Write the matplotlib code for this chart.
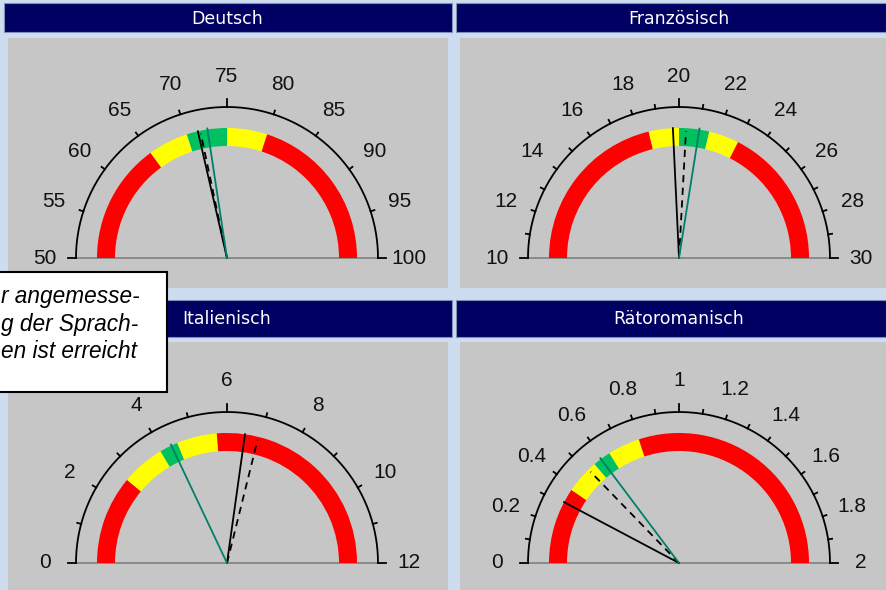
import numpy as np
import matplotlib
matplotlib.use("Agg")
import matplotlib.pyplot as plt
from matplotlib.patches import Wedge, Rectangle

# ---------------- data ----------------
panels = ["Deutsch", "Französisch", "Italienisch", "Rätoromanisch"]
scale_min = [50, 10, 0, 0]
scale_max = [100, 30, 12, 2]
label_step = [5, 2, 2, 0.2]
tick_step = [5, 1, 1, 0.1]
band_de = [50, 65, 70, 75, 80, 100]
band_fr = [10, 18.5, 20, 21.5, 23, 30]
band_it = [0, 2.65, 3.95, 4.5, 5.7, 12]
band_rm = [0, 0.38, 0.55, 0.64, 0.8, 2]
band_colors = ["#ff0000", "#ffff00", "#00c060", "#ffff00", "#ff0000"]
needle_solid = [71.4, 19.7, 6.53, 0.31]
needle_dashed = [71.7, 20.35, 6.93, 0.51]
needle_green = [72.6, 21.0, 4.31, 0.59]
note_lines = ["r angemesse-", "g der Sprach-", "en ist erreicht"]

bands = [band_de, band_fr, band_it, band_rm]

# ---------------- layout (pixels, top-down) ----------------
W, H = 886, 590
gray_boxes = [(8, 38, 448, 288), (460, 38, 886, 288), (8, 342, 448, 590), (460, 342, 886, 590)]
centers = [(227, 258), (679, 258), (227, 563), (679, 563)]
headers = [(4, 3, 452, 32), (456, 3, 886, 32), (4, 300, 452, 337), (456, 300, 886, 337)]

BG = "#cddcee"
NAVY = "#000062"
GRAY = "#c6c6c6"
TEAL = "#00806a"

R_ARC = 151
R_BAND = 130
BAND_W = 18
R_LABEL = 182

fig = plt.figure(figsize=(W / 100, H / 100), dpi=100)
fig.patch.set_facecolor(BG)

bg = fig.add_axes([0, 0, 1, 1], zorder=0)
bg.set_xlim(0, W)
bg.set_ylim(H, 0)
bg.axis("off")

for (x0, y0, x1, y1), (cx, cy), name in zip(headers, centers, panels):
    bg.add_patch(Rectangle((x0, y0), x1 - x0, y1 - y0, facecolor=NAVY, edgecolor="#7f8fb8", lw=0.8))
    bg.text(cx, (y0 + y1) / 2 + 1, name, color="white", fontsize=12.5,
            family="DejaVu Sans", ha="center", va="center")


def ang(v, lo, hi):
    return np.pi * (1 - (v - lo) / (hi - lo))


for i in range(4):
    x0, y0, x1, y1 = gray_boxes[i]
    cx, cy = centers[i]
    ax = fig.add_axes([x0 / W, 1 - y1 / H, (x1 - x0) / W, (y1 - y0) / H], zorder=1)
    ax.set_facecolor(GRAY)
    ax.set_xlim(x0 - cx, x1 - cx)
    ax.set_ylim(cy - y1, cy - y0)
    ax.set_xticks([])
    ax.set_yticks([])
    for s in ax.spines.values():
        s.set_visible(False)

    lo, hi = scale_min[i], scale_max[i]

    # colour bands
    b = bands[i]
    for k in range(len(b) - 1):
        t1 = np.degrees(ang(b[k + 1], lo, hi))
        t2 = np.degrees(ang(b[k], lo, hi))
        ax.add_patch(Wedge((0, 0), R_BAND, t1, t2, width=BAND_W,
                           facecolor=band_colors[k], edgecolor="none", zorder=2))

    # baseline
    ax.plot([-R_ARC, R_ARC], [0, 0], color="#808080", lw=1.2, zorder=1)

    # scale arc
    th = np.linspace(0, np.pi, 300)
    ax.plot(R_ARC * np.cos(th), R_ARC * np.sin(th), color="black", lw=1.3, zorder=3)

    # ticks
    nt = int(round((hi - lo) / tick_step[i]))
    mid = (lo + hi) / 2
    for j in range(nt + 1):
        v = lo + j * tick_step[i]
        a = ang(v, lo, hi)
        L = 8 if (j == 0 or j == nt or abs(v - mid) < 1e-9) else 4
        ax.plot([R_ARC * np.cos(a), (R_ARC + L) * np.cos(a)],
                [R_ARC * np.sin(a), (R_ARC + L) * np.sin(a)], color="black", lw=1.3, zorder=3)

    # labels
    nl = int(round((hi - lo) / label_step[i]))
    for j in range(nl + 1):
        v = round(lo + j * label_step[i], 6)
        a = ang(v, lo, hi)
        ax.text(R_LABEL * np.cos(a), R_LABEL * np.sin(a), f"{v:g}", fontsize=15,
                family="Liberation Sans", ha="center", va="center", color="#111111", zorder=4)

    # needles
    a = ang(needle_solid[i], lo, hi)
    ax.plot([0, 130 * np.cos(a)], [0, 130 * np.sin(a)], color="black", lw=1.3, zorder=5)
    a = ang(needle_dashed[i], lo, hi)
    ax.plot([0, 127 * np.cos(a)], [0, 127 * np.sin(a)], color="black", lw=1.3,
            dashes=(4, 3), zorder=5)
    a = ang(needle_green[i], lo, hi)
    ax.plot([0, 131 * np.cos(a)], [0, 131 * np.sin(a)], color=TEAL, lw=1.3, zorder=5)

# note box overlay
ov = fig.add_axes([0, 0, 1, 1], zorder=10)
ov.set_xlim(0, W)
ov.set_ylim(H, 0)
ov.axis("off")
ov.patch.set_alpha(0)
ov.add_patch(Rectangle((-5, 272), 172, 120, facecolor="white", edgecolor="black", lw=1.5))
for line, xl, yb in zip(note_lines, [1, 1, 1], [303, 331, 358]):
    ov.text(xl, yb, line, fontsize=16.3, family="Liberation Sans", style="italic",
            ha="left", va="baseline", color="black")

fig.savefig("out.png", dpi=100, facecolor=BG)
